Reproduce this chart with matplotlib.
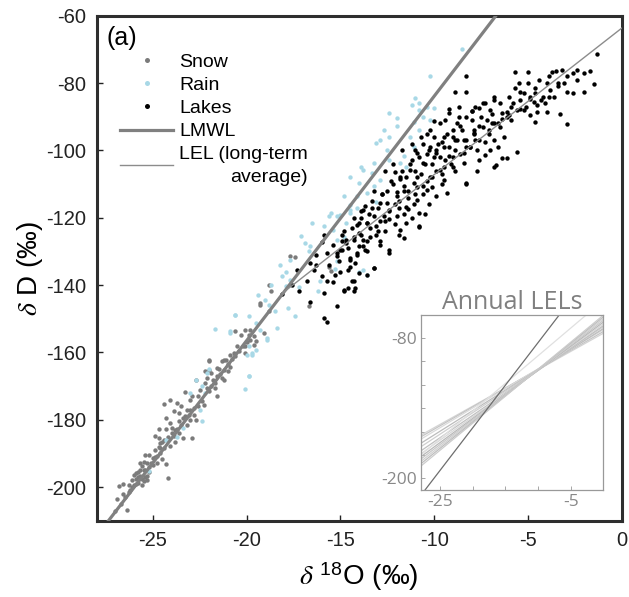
import numpy as np
import matplotlib
matplotlib.use("Agg")
import matplotlib.pyplot as plt
from matplotlib.lines import Line2D

# -------------------------------
# data
# -------------------------------
snow_x = [-26.4, -26.8, -26.6, -26.3, -26.1, -25.9, -25.7, -25.5, -25.8, -25.3, -25.4, -25.6,
          -25.1, -25.0, -24.8, -24.6, -25.2, -24.6, -24.4, -24.1, -24.2, -24.3, -23.9, -23.7,
          -23.6, -24.1, -24.4, -24.1, -23.6, -23.3, -23.5, -23.2, -23.0, -23.3, -23.0, -22.9,
          -23.4, -22.7, -22.6, -22.9, -22.7, -22.5, -22.2, -22.2, -22.0, -22.0, -22.1, -21.9,
          -21.7, -21.6, -21.6, -21.8, -21.2, -21.2, -21.3, -20.9, -21.1, -20.7, -20.5, -20.1,
          -20.1, -19.6, -19.6, -19.9, -24.7, -24.9, -24.3, -24.5,
          -17.7, -17.4, -15.6, -15.5, -16.7, -18.7, -19.3, -19.1, -20.2, -19.8, -20.6, -20.3,
          -18.8, -19.5, -21.2, -20.9, -22.0, -21.6, -18.8, -19.3, -20.1,
          -25.9, -25.6, -25.4, -25.7, -26.0, -25.2, -25.5, -26.2, -26.5, -26.0, -24.9, -24.7,
          -24.4, -24.0, -23.8, -23.5, -23.1, -22.8, -22.4, -22.0, -21.7, -21.4, -21.0, -20.6,
          -25.3, -25.8, -26.7, -27.0,
          -26.3, -26.1, -25.9, -25.8, -25.6, -25.5, -25.3, -25.2, -25.0, -24.9, -24.8, -24.6,
          -24.5, -24.2, -24.0, -23.8, -23.6, -23.4, -23.2, -23.0, -22.8, -22.6, -22.3, -22.1,
          -21.9, -21.5, -21.3, -21.0, -20.8, -20.4, -20.0, -19.8, -26.9, -26.6, -25.7, -25.4,
          -24.7, -24.3, -23.9, -23.7]
snow_y = [-206.7, -199.8, -202.2, -199.3, -197.8, -195.8, -196.8, -198.3, -198.8, -196.8, -194.8, -193.8,
          -192.8, -191.3, -190.9, -189.9, -190.4, -186.9, -185.9, -187.9, -197.3, -182.9, -184.9, -182.9,
          -180.5, -181.0, -175.2, -174.0, -178.0, -179.0, -176.0, -177.0, -174.0, -171.9, -180.0, -185.4,
          -185.4, -180.0, -176.0, -173.1, -168.1, -171.1, -169.1, -165.6, -165.1, -162.7, -167.6, -170.1,
          -170.6, -167.1, -173.1, -168.1, -165.1, -168.1, -167.6, -164.2, -162.2, -160.2, -158.2, -160.2,
          -158.2, -157.7, -155.2, -154.7, -182.9, -184.9, -193.3, -191.8,
          -131.3, -131.7, -134.5, -135.7, -146.1, -141.9, -145.8, -154.2, -158.2, -156.2, -153.8, -154.7,
          -147.8, -156.7, -162.2, -160.7, -162.2, -164.6, -139.9, -145.3, -153.3,
          -199.0, -197.5, -197.0, -195.0, -196.5, -194.0, -192.5, -201.0, -203.0, -199.5, -189.0, -188.0,
          -188.5, -184.0, -183.0, -181.5, -178.5, -176.5, -174.5, -171.5, -169.0, -166.5, -163.5, -161.0,
          -193.0, -197.0, -205.0, -207.0,
          -201.5, -200.0, -197.5, -195.5, -199.5, -195.0, -198.0, -195.5, -193.5, -191.0, -193.0, -188.5,
          -186.5, -185.0, -182.5, -186.5, -184.0, -179.5, -181.5, -177.0, -178.5, -173.0, -175.5, -170.5,
          -166.0, -165.0, -162.5, -165.5, -162.0, -159.5, -157.0, -153.5, -203.5, -199.0, -193.0, -190.5,
          -185.5, -179.5, -177.5, -175.0]

rain_x = [-15.6, -15.5, -16.5, -15.9, -17.1, -16.9, -16.6, -16.7, -17.7, -18.2, -17.9, -18.1,
          -17.7, -17.9, -18.7, -19.4, -19.0, -18.8, -18.5, -17.8, -17.4, -17.2, -16.2, -16.1,
          -20.6, -19.9, -19.5, -18.4, -21.7, -20.9, -19.3, -18.9, -19.9, -19.7, -19.5, -20.0,
          -15.0, -14.5, -14.1, -13.6, -15.3, -15.2,
          -10.2, -11.0, -10.8, -10.4, -10.0, -11.2, -10.6, -10.2, -12.0, -11.1, -10.8, -11.3,
          -11.1, -12.0, -12.4, -12.9, -13.1, -12.5, -12.4, -11.8, -11.5, -13.2, -13.9, -13.8,
          -13.3, -14.5, -12.9, -13.2, -14.0, -14.8, -14.1, -13.6, -14.5, -13.1, -14.5, -15.2,
          -14.7, -15.4, -15.2, -14.8, -14.0, -13.8, -12.4, -12.7, -11.6, -10.8, -8.5,
          -22.7, -22.0, -22.1, -22.4, -23.0, -22.2, -22.5, -22.4, -23.4, -23.7, -24.3, -25.2,
          -19.9, -20.1, -19.9, -19.7, -18.9, -20.6, -20.9]
rain_y = [-119.4, -118.6, -121.6, -122.6, -125.4, -127.5, -128.5, -130.0, -132.5, -134.0, -136.0, -137.4,
          -138.4, -140.4, -139.9, -142.9, -144.4, -145.8, -147.8, -146.8, -149.3, -140.6, -141.9, -138.9,
          -149.0, -149.3, -151.3, -152.8, -153.0, -154.1, -153.3, -155.7, -158.2, -160.2, -159.2, -160.7,
          -119.1, -117.7, -117.2, -136.9, -135.2, -133.0,
          -77.8, -84.5, -86.0, -87.0, -87.5, -86.5, -90.0, -90.9, -90.4, -91.5, -93.9, -95.9,
          -98.9, -92.9, -95.9, -96.9, -97.9, -99.9, -102.8, -103.8, -104.8, -103.8, -104.8, -105.8,
          -106.8, -107.8, -108.8, -110.7, -109.7, -113.7, -113.7, -112.7, -116.2, -115.2, -118.6, -119.6,
          -121.6, -123.6, -126.6, -125.6, -136.0, -135.5, -89.0, -93.9, -101.8, -88.0, -70.0,
          -168.3, -164.9, -166.1, -170.1, -172.0, -172.0, -177.0, -180.5, -182.4, -185.1, -185.9, -195.3,
          -166.9, -170.8, -167.1, -160.7, -156.2, -148.8, -153.8]

lake_x = [-1.3, -1.7, -2.0, -1.5, -2.0, -3.2, -3.5, -3.7, -5.0, -5.7, -2.9, -2.6,
          -3.3, -2.9, -4.0, -3.8, -4.6, -5.2, -5.4, -4.9, -4.3, -4.2, -4.7, -5.7,
          -5.8, -5.4, -4.9, -4.5, -4.0, -4.6, -5.6, -6.1, -6.4, -6.7, -6.8, -7.7,
          -8.3, -6.8, -8.3, -8.3, -6.1, -6.0, -6.4, -6.9, -7.4, -7.6, -8.0, -6.3,
          -6.8, -7.0, -7.3, -6.8, -7.2, -7.6, -7.9, -8.3, -8.1, -8.4, -7.7, -7.6,
          -8.9, -9.2, -10.0, -8.0, -8.6, -7.9, -9.5, -8.8, -8.3, -10.2, -9.9, -9.2,
          -8.4, -10.9, -10.6, -9.7, -9.0, -8.3, -10.2, -9.5, -11.3, -11.1, -10.4, -9.9,
          -9.3, -11.6, -12.0, -10.9, -11.5, -10.8, -11.5, -10.8, -12.9, -12.4, -12.7, -12.0,
          -13.2, -13.8, -13.1, -13.6, -14.0, -13.4, -14.3, -14.7, -13.8, -14.1, -15.0, -14.5,
          -15.2, -12.4, -12.4, -13.2, -13.6, -11.6, -11.8, -14.4, -14.8, -14.2, -13.2, -10.8,
          -15.9, -16.3, -16.6, -16.4, -17.3, -18.1, -17.2, -16.0, -15.7, -15.2, -16.6, -15.9,
          -15.7, -14.8, -14.6, -14.3, -14.3, -14.0, -15.2, -14.9, -14.5, -14.7, -14.3, -13.8,
          -14.0, -13.6, -15.7, -16.0, -14.9, -14.1, -13.6, -13.7, -16.3,
          -12.5, -11.8, -11.2, -10.6, -10.0, -9.6, -9.0, -8.7, -9.4, -10.4, -11.0, -11.7,
          -12.2, -12.8, -13.3, -13.9, -10.1, -9.7, -9.2, -8.9, -10.7, -11.4, -12.1, -12.6,
          -13.0, -11.9, -11.2, -10.3, -9.6, -8.9, -7.8, -7.1, -6.5, -5.9, -5.2, -4.5,
          -3.9, -3.4, -2.4, -7.3, -6.6, -10.5, -12.9, -14.6, -15.4, -15.9, -16.8, -17.6,
          -15.6, -15.4, -15.3, -15.1, -14.9, -15.0, -14.8, -14.6, -14.4, -14.5, -14.3, -14.1,
          -13.9, -14.0, -13.9, -14.2, -13.6, -13.4, -13.5, -13.3, -13.7, -13.1, -12.9, -13.0,
          -12.8, -13.2, -12.9, -12.6, -12.4, -12.5, -12.3, -12.6, -12.4, -12.1, -11.9, -12.0,
          -11.8, -12.2, -11.9, -12.1, -11.6, -11.4, -11.5, -11.3, -11.7, -11.6, -11.4, -11.1,
          -10.9, -11.0, -10.8, -11.2, -11.0, -10.9, -10.6, -10.4, -10.5, -10.3, -10.7, -10.6,
          -10.4, -10.1, -9.9, -10.0, -9.8, -10.2, -10.1, -9.9, -9.6, -9.4, -9.5, -9.3,
          -9.7, -9.5, -9.1, -8.9, -9.0, -8.8, -9.2, -9.0, -8.6, -8.4, -8.5, -8.3,
          -8.7, -8.1, -7.9, -8.0, -7.8, -7.6, -7.4, -7.5, -7.3, -7.1, -6.9, -7.0,
          -6.8, -6.6, -6.4, -6.5, -6.1, -5.9, -6.0, -5.6, -5.4, -5.5, -5.1, -4.9,
          -5.0, -4.6, -4.4, -4.1, -3.9, -3.6, -3.4, -3.1, -2.9, -2.6, -2.4]
lake_y = [-71.5, -76.4, -77.1, -80.2, -82.6, -76.0, -76.3, -76.8, -76.7, -76.6, -82.7, -83.1,
          -89.2, -92.3, -80.1, -82.0, -81.5, -83.0, -82.8, -84.8, -85.0, -84.0, -85.5, -81.5,
          -86.0, -87.7, -89.5, -88.5, -88.5, -91.6, -100.4, -102.3, -102.3, -104.3, -104.8, -106.0,
          -110.0, -85.0, -82.8, -77.8, -88.5, -89.5, -90.8, -89.2, -86.0, -87.5, -88.2, -95.9,
          -96.9, -99.9, -101.3, -91.9, -90.9, -92.9, -94.9, -96.9, -98.9, -100.8, -99.9, -102.8,
          -82.8, -87.8, -91.2, -88.2, -92.9, -93.9, -95.9, -96.9, -98.9, -98.9, -100.8, -101.8,
          -103.8, -100.8, -103.8, -105.8, -104.8, -109.7, -107.8, -108.8, -105.8, -109.7, -111.7, -113.7,
          -112.7, -110.7, -113.7, -114.7, -116.7, -118.6, -121.6, -122.6, -115.7, -117.7, -119.6, -119.6,
          -119.6, -117.7, -122.6, -121.6, -124.6, -125.6, -126.6, -127.5, -128.5, -130.5, -129.5, -132.5,
          -131.5, -129.5, -130.5, -135.0, -136.9, -126.1, -123.6, -138.9, -141.4, -140.9, -134.8, -122.9,
          -125.1, -131.0, -133.5, -135.5, -135.5, -142.7, -141.9, -137.4, -138.7, -146.1, -144.9, -149.8,
          -151.0, -141.9, -140.9, -141.9, -138.9, -136.4, -130.5, -129.5, -132.0, -126.6, -125.6, -126.6,
          -128.5, -130.0, -130.5, -127.1, -125.1, -122.1, -121.6, -116.5, -134.0,
          -112.0, -108.0, -103.0, -98.0, -96.0, -97.5, -94.0, -90.0, -91.0, -95.0, -100.0, -106.0,
          -110.0, -113.0, -117.0, -120.0, -104.0, -102.0, -99.0, -97.0, -107.0, -112.0, -116.0, -121.0,
          -124.0, -125.0, -120.0, -116.0, -110.0, -106.0, -97.0, -94.0, -93.0, -91.0, -88.0, -86.5,
          -84.0, -80.0, -79.0, -97.5, -99.0, -119.0, -127.0, -135.5, -139.0, -142.5, -138.8, -140.1,
          -134.0, -128.0, -137.0, -133.0, -127.0, -136.0, -124.0, -129.0, -123.0, -134.5, -120.0, -131.0,
          -125.0, -121.5, -118.0, -133.5, -127.0, -123.0, -119.0, -115.0, -129.5, -125.0, -121.0, -117.0,
          -113.0, -112.0, -128.0, -124.0, -118.0, -115.5, -109.0, -106.0, -120.5, -122.0, -117.0, -112.5,
          -108.5, -104.0, -115.0, -106.5, -119.0, -114.0, -108.0, -104.0, -100.0, -112.0, -117.5, -116.0,
          -111.0, -106.0, -102.0, -98.0, -113.0, -108.0, -113.0, -109.0, -104.0, -100.0, -96.0, -110.5,
          -101.0, -111.0, -106.0, -102.0, -98.0, -94.0, -108.0, -100.0, -107.0, -103.0, -99.0, -95.0,
          -92.0, -105.0, -104.0, -100.0, -96.0, -92.0, -89.0, -102.0, -101.0, -97.0, -94.0, -90.0,
          -87.0, -99.0, -95.0, -91.0, -87.0, -97.0, -93.0, -90.0, -86.0, -95.0, -92.0, -88.0,
          -84.0, -92.0, -89.0, -86.0, -90.0, -87.0, -84.0, -88.0, -85.0, -80.0, -87.0, -84.0,
          -80.0, -83.0, -79.0, -86.0, -78.0, -84.0, -81.0, -80.0, -78.0, -77.0, -76.0]

# meteoric water line and long-term evaporation line
lmwl_slope, lmwl_icept = 7.26, -11.3
lel_slope, lel_icept, lel_x0 = 4.35, -63.7, -18.1

# annual LELs: dD at d18O = -28 and at d18O = 0
annual_left = [-163.0, -164.5, -166.5, -170.0, -173.0, -176.5, -179.0, -181.5, -183.5, -185.5, -187.5, -189.5, -180.0]
annual_right = [-76.0, -74.5, -73.0, -72.0, -70.5, -69.5, -68.0, -66.5, -65.0, -63.5, -62.0, -60.6, -48.0]

xlim = (-28, 0)
ylim = (-210, -60)

# -------------------------------
# plot
# -------------------------------
plt.rcParams['font.family'] = ['Liberation Sans', 'DejaVu Sans']
plt.rcParams['axes.unicode_minus'] = False
plt.rcParams['mathtext.fontset'] = 'custom'
plt.rcParams['mathtext.rm'] = 'Liberation Sans'
plt.rcParams['mathtext.it'] = 'STIXGeneral:italic'

fig = plt.figure(figsize=(6.29, 5.97), dpi=100)
ax = fig.add_axes([0.1537, 0.1278, 0.8347, 0.8459])

ax.scatter(snow_x, snow_y, s=10, color='#7b7b7b', lw=0, zorder=2)
ax.scatter(rain_x, rain_y, s=10, color='#a8d8e6', lw=0, zorder=3)
ax.scatter(lake_x, lake_y, s=10, color='black', lw=0, zorder=4)

xx = np.array(xlim, dtype=float)
ax.plot(xx, lmwl_slope * xx + lmwl_icept, color='#808080', lw=2.3, zorder=5)
xl = np.array([lel_x0, 0.0])
ax.plot(xl, lel_slope * xl + lel_icept, color='#8c8c8c', lw=1.0, zorder=6)

ax.set_xlim(xlim)
ax.set_ylim(ylim)
ax.set_xticks(np.arange(-25, 1, 5))
ax.set_yticks(np.arange(-200, -59, 20))
ax.tick_params(direction='in', length=4, width=1, labelsize=14.5, colors='#222222', pad=7.5)
for sp in ax.spines.values():
    sp.set_linewidth(2.2)
    sp.set_color('#2e2e2e')

ax.set_xlabel(r'$\delta$ $^{18}$O (‰)', fontsize=20, labelpad=7)
ax.set_ylabel(r'$\delta$ D (‰)', fontsize=20, labelpad=1)

ax.text(0.018, 0.955, '(a)', transform=ax.transAxes, fontsize=18, va='center', ha='left')

handles = [
    Line2D([], [], ls='none', marker='o', ms=3.6, mec='none', mfc='#7b7b7b'),
    Line2D([], [], ls='none', marker='o', ms=3.6, mec='none', mfc='#a8d8e6'),
    Line2D([], [], ls='none', marker='o', ms=3.6, mec='none', mfc='black'),
    Line2D([], [], color='#808080', lw=2.3),
    Line2D([], [], color='#8c8c8c', lw=1.0),
]
labels = ['Snow', 'Rain', 'Lakes', 'LMWL', 'LEL (long-term\naverage)']
leg = ax.legend(handles, labels, loc='upper left', bbox_to_anchor=(0.044, 0.925), frameon=False,
                fontsize=14, handlelength=2.75, handletextpad=0.3, labelspacing=0.28,
                borderpad=0, borderaxespad=0)
last = leg.get_texts()[-1]
last.set_multialignment('right')
last.set_linespacing(1.45)

# inset with the annual LELs
axi = fig.add_axes([0.669, 0.179, 0.290, 0.294])
grays = ['#d4d4d4', '#c4c4c4', '#dadada', '#bcbcbc', '#cfcfcf', '#c0c0c0', '#d8d8d8',
         '#b8b8b8', '#c8c8c8', '#d0d0d0', '#bdbdbd', '#cccccc', '#e0e0e0']
for yl, yr, c in zip(annual_left, annual_right, grays):
    axi.plot(xx, [yl, yr], color=c, lw=0.9)
axi.plot(xx, lmwl_slope * xx + lmwl_icept, color='#6e6e6e', lw=0.9)
axi.set_xlim(xlim)
axi.set_ylim(ylim)
axi.set_xticks(np.arange(-25, 0, 5))
axi.set_xticklabels(['-25', '', '', '', '-5'])
axi.set_yticks(np.arange(-200, -79, 20))
axi.set_yticklabels(['-200', '', '', '', '', '', '-80'])
axi.tick_params(direction='in', length=3, width=0.6, colors='#999999', labelcolor='#888888',
                labelsize=12.5, pad=3)
for lab in axi.get_xticklabels() + axi.get_yticklabels():
    lab.set_family('Open Sans')
for sp in axi.spines.values():
    sp.set_color('#999999')
    sp.set_linewidth(0.9)
axi.set_title('Annual LELs', fontsize=18, color='#808080', family='Open Sans', pad=2)

fig.savefig('out.png', dpi=100)
